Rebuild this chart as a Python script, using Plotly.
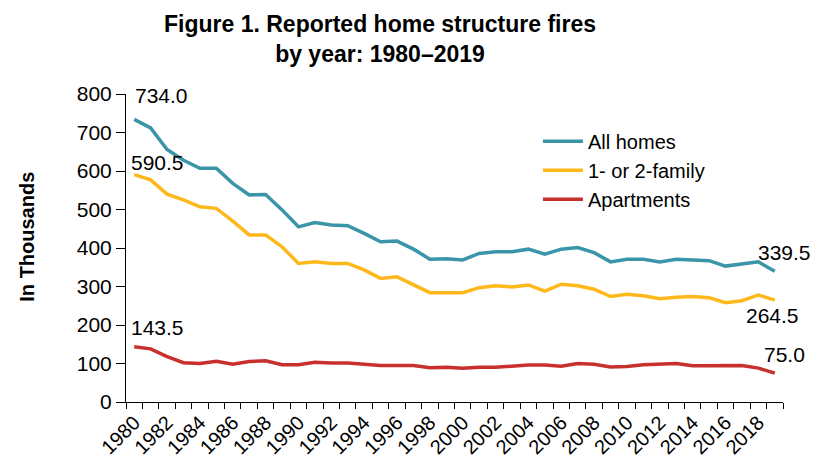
import plotly.graph_objects as go

years = list(range(1980, 2020))
all_homes = [734.0, 712, 656, 628, 607, 607, 568, 538, 539, 499,
             455, 466, 460, 458, 438, 416, 418, 397, 371, 372,
             369, 386, 390, 390, 397, 384, 397, 401, 388, 364,
             371, 371, 364, 371, 369, 367, 353, 358, 364, 339.5]
one_two_family = [590.5, 577, 540, 525, 507, 503, 470, 434, 434, 403,
                  360, 364, 360, 360, 343, 321, 325, 305, 284, 284,
                  284, 297, 302, 299, 304, 288, 306, 302, 293, 274,
                  280, 276, 268, 272, 274, 271, 258, 263, 278, 264.5]
apartments = [143.5, 138, 118, 102, 100, 106, 98, 105, 107, 97,
              97, 103, 101, 101, 98, 95, 95, 95, 89, 90,
              87.5, 90, 90, 93.5, 96, 96, 93, 100, 98, 91,
              92, 97, 98, 100, 94, 95, 95, 95, 88, 75.0]
series_names = ["All homes", "1- or 2-family", "Apartments"]
colors = ["#3A95A8", "#FFB81C", "#C8302D"]
y_ticks = [0, 100, 200, 300, 400, 500, 600, 700, 800]

FONT = "Arial, Liberation Sans, sans-serif"

fig = go.Figure()
for name, vals, col in zip(series_names, [all_homes, one_two_family, apartments], colors):
    fig.add_trace(go.Scatter(x=years, y=vals, mode="lines", name=name,
                             line=dict(color=col, width=3.5)))

# end labels
label_specs = [
    (years[0], all_homes[0], "left", -1, 24),
    (years[0], one_two_family[0], "left", -5, 12),
    (years[0], apartments[0], "left", -5, 19),
    (years[-1], all_homes[-1], "center", 10, 19),
    (years[-1], one_two_family[-1], "center", -2, -15),
    (years[-1], apartments[-1], "center", 10, 19),
]
for x, y, xa, xs, ys in label_specs:
    fig.add_annotation(x=x, y=y, xref="x", yref="y", text=f"{y:.1f}",
                       showarrow=False, xanchor=xa, yanchor="middle",
                       xshift=xs, yshift=ys, font=dict(size=21, color="black", family=FONT))

# y-axis title
fig.add_annotation(x=-0.151, y=0.536, xref="paper", yref="paper",
                   text="<b>In Thousands</b>", textangle=-90, showarrow=False,
                   xanchor="center", yanchor="middle",
                   font=dict(size=20, color="black", family=FONT))

# chart title
fig.add_annotation(x=0.3866, y=1.18, xref="paper", yref="paper",
                   text="<b>Figure 1. Reported home structure fires<br>by year: 1980–2019</b>",
                   showarrow=False, xanchor="center", yanchor="middle",
                   font=dict(size=23, color="black", family=FONT))

fig.update_layout(
    width=814, height=458,
    margin=dict(l=126, r=31, t=94, b=56, autoexpand=False),
    paper_bgcolor="white", plot_bgcolor="white",
    font=dict(family=FONT, color="black", size=20),
    showlegend=True,
    legend=dict(x=0.627, y=0.91, xanchor="left", yanchor="top",
                bgcolor="rgba(0,0,0,0)", font=dict(size=20, color="black", family=FONT),
                tracegroupgap=0, itemwidth=40),
    xaxis=dict(range=[years[0] - 0.5, years[-1] + 0.5], tickmode="array",
               tickvals=years[::2], ticktext=[str(y) for y in years[::2]],
               tickangle=-45, ticks="", showline=True, linecolor="black", linewidth=1,
               showgrid=False, zeroline=False, tickfont=dict(size=20), automargin=False,
               minor=dict(tickmode="array", tickvals=[y - 0.5 for y in years] + [years[-1] + 0.5],
                          ticks="outside", ticklen=6, tickcolor="black", tickwidth=1, showgrid=False)),
    yaxis=dict(range=[0, 800], tickmode="array", tickvals=y_ticks,
               ticks="outside", ticklen=9, tickcolor="black", tickwidth=1,
               showline=True, linecolor="black", linewidth=1, showgrid=False,
               zeroline=False, tickfont=dict(size=21), automargin=False),
)

fig.write_html("out.html")
